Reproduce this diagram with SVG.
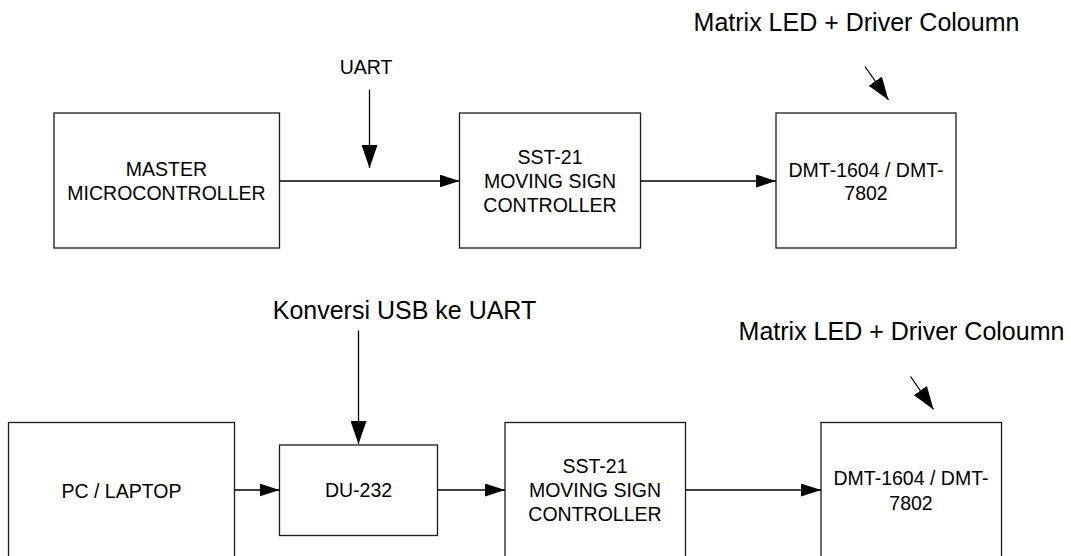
<svg xmlns="http://www.w3.org/2000/svg" width="1071" height="556" viewBox="0 0 1071 556">
  <style>
    .box { fill: #ffffff; stroke: #1a1a1a; stroke-width: 1.3; }
    .t { font-family: "Liberation Sans", Arial, sans-serif; font-size: 19.5px; fill: #000; text-anchor: middle; }
    .big { font-size: 25px; }
    .conn { stroke: #000; stroke-width: 1.3; fill: none; }
  </style>
  <defs>
    <marker id="arr" viewBox="0 0 20 13" refX="20" refY="6.5" markerWidth="20" markerHeight="13" markerUnits="userSpaceOnUse" orient="auto">
      <path d="M0,0 L20,6.5 L0,13 Z" fill="#000"/>
    </marker>
    <marker id="arrL" viewBox="0 0 23 16" refX="23" refY="8" markerWidth="23" markerHeight="16" markerUnits="userSpaceOnUse" orient="auto">
      <path d="M0,0 L23,8 L0,16 Z" fill="#000"/>
    </marker>
  </defs>
  <rect width="1071" height="556" fill="#ffffff"/>

  <!-- Top row -->
  <g id="master">
    <rect class="box" x="54" y="113" width="225.5" height="135"/>
    <text class="t" x="166.5" y="176">MASTER</text>
    <text class="t" x="166.5" y="199.5">MICROCONTROLLER</text>
  </g>
  <g id="uart-label">
    <text class="t" x="366" y="74">UART</text>
  </g>
  <g id="sst-top">
    <rect class="box" x="459.5" y="113" width="181" height="135"/>
    <text class="t" x="550" y="164">SST-21</text>
    <text class="t" x="550" y="188">MOVING SIGN</text>
    <text class="t" x="550" y="212">CONTROLLER</text>
  </g>
  <g id="dmt-top">
    <rect class="box" x="776" y="113" width="180" height="135"/>
    <text class="t" x="866" y="176.5">DMT-1604 / DMT-</text>
    <text class="t" x="866" y="200">7802</text>
  </g>
  <g id="matrix-label-top">
    <text class="t big" x="856.5" y="30.5">Matrix LED + Driver Coloumn</text>
  </g>

  <!-- Bottom row -->
  <g id="konversi-label">
    <text class="t big" x="404.5" y="318.5">Konversi USB ke UART</text>
  </g>
  <g id="pc">
    <rect class="box" x="8.5" y="422.5" width="226" height="145"/>
    <text class="t" x="121.5" y="497.5">PC / LAPTOP</text>
  </g>
  <g id="du232">
    <rect class="box" x="279.5" y="445" width="158" height="90.5"/>
    <text class="t" x="358.5" y="497">DU-232</text>
  </g>
  <g id="sst-bottom">
    <rect class="box" x="505" y="422.5" width="180.5" height="145"/>
    <text class="t" x="595" y="473">SST-21</text>
    <text class="t" x="595" y="497">MOVING SIGN</text>
    <text class="t" x="595" y="520.5">CONTROLLER</text>
  </g>
  <g id="dmt-bottom">
    <rect class="box" x="821" y="422.5" width="180.5" height="145"/>
    <text class="t" x="911" y="485">DMT-1604 / DMT-</text>
    <text class="t" x="911" y="510">7802</text>
  </g>
  <g id="matrix-label-bottom">
    <text class="t big" x="901.5" y="340">Matrix LED + Driver Coloumn</text>
  </g>

  <!-- Connectors -->
  <g id="connectors">
    <line class="conn" x1="279.5" y1="181" x2="459.5" y2="181" marker-end="url(#arr)"/>
    <line class="conn" x1="369.5" y1="90" x2="369.5" y2="168" marker-end="url(#arrL)"/>
    <line class="conn" x1="640.5" y1="181" x2="776" y2="181" marker-end="url(#arr)"/>
    <line class="conn" x1="865" y1="66.5" x2="888.5" y2="100" marker-end="url(#arrL)"/>

    <line class="conn" x1="234.5" y1="490" x2="279.5" y2="490" marker-end="url(#arr)"/>
    <line class="conn" x1="358.5" y1="330.5" x2="358.5" y2="444" marker-end="url(#arrL)"/>
    <line class="conn" x1="437.5" y1="490" x2="505" y2="490" marker-end="url(#arr)"/>
    <line class="conn" x1="685.5" y1="490" x2="821" y2="490" marker-end="url(#arr)"/>
    <line class="conn" x1="910.5" y1="376.5" x2="933.5" y2="409.5" marker-end="url(#arrL)"/>
  </g>
</svg>
